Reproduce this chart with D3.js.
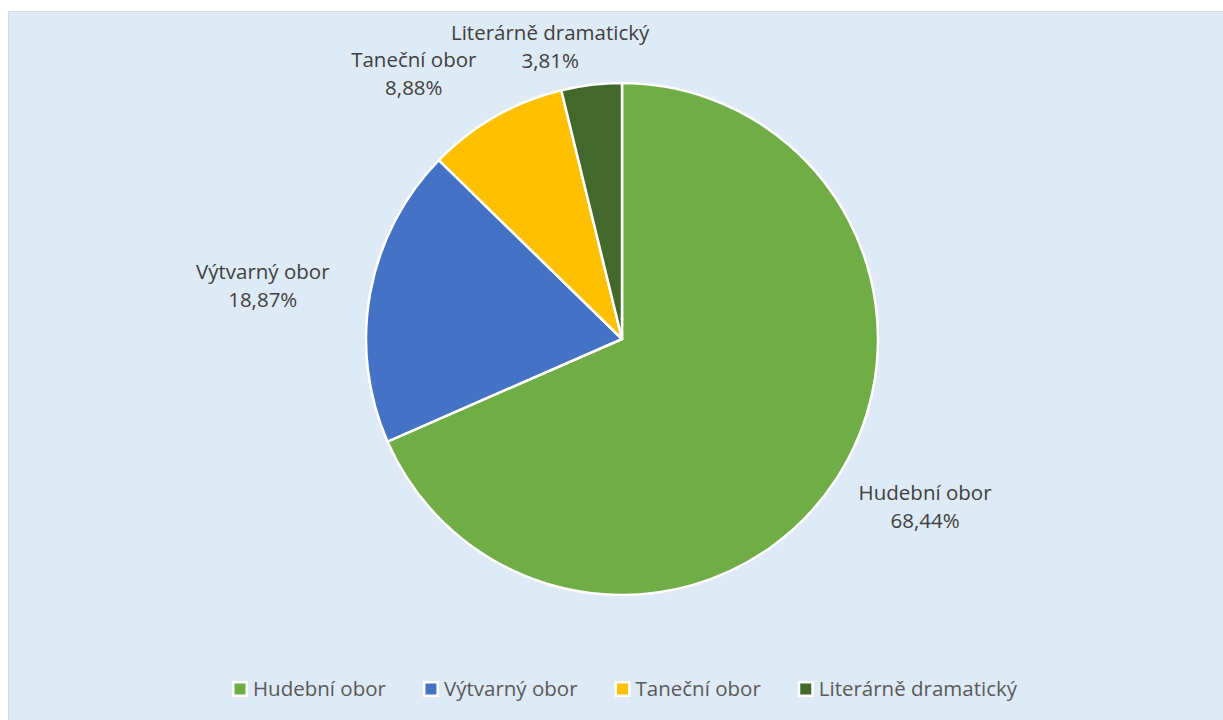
<!DOCTYPE html>
<html lang="cs">
<head>
<meta charset="utf-8">
<style>
  body { margin: 0; background: #fff; }
  svg text { font-family: "Open Sans", "Noto Sans", sans-serif; fill: #404040; }
</style>
</head>
<body>
<svg width="1223" height="720"></svg>
<script src="https://cdnjs.cloudflare.com/ajax/libs/d3/7.8.5/d3.min.js"></script>
<script>
// data
var categories = ["Hudební obor", "Výtvarný obor", "Taneční obor", "Literárně dramatický"];
var shares = [68.44, 18.87, 8.88, 3.81];
var colors = ["#70AD47", "#4472C4", "#FFC000", "#43682B"];

// label placement (angle shift in degrees, radius factor) - best-fit style
var labelShift = [-3.2, -3.0, -9.2, -7.3];
var labelRadius = [1.367, 1.415, 1.295, 1.148];

var svg = d3.select("svg");

svg.append("rect")
    .attr("x", 8.5).attr("y", 11.5)
    .attr("width", 1230).attr("height", 720)
    .attr("fill", "#DEEAF6")
    .attr("stroke", "#D9D9D9");

var cx = 622, cy = 339, r = 256;

var data = categories.map(function(c, i) { return { name: c, value: shares[i], color: colors[i], i: i }; });

var pie = d3.pie().sort(null).value(function(d) { return d.value; });
var arc = d3.arc().innerRadius(0).outerRadius(r);

var g = svg.append("g").attr("transform", "translate(" + cx + "," + cy + ")");

var arcs = pie(data);

g.selectAll("path")
  .data(arcs)
  .enter().append("path")
    .attr("d", arc)
    .attr("fill", function(d) { return d.data.color; })
    .attr("stroke", "#fff")
    .attr("stroke-width", 2.5)
    .attr("stroke-linejoin", "round");

var fmt = function(v) { return v.toFixed(2).replace(".", ",") + "%"; };

var labels = g.selectAll("text.lbl")
  .data(arcs)
  .enter().append("text")
    .attr("class", "lbl")
    .attr("text-anchor", "middle")
    .style("font-size", "20.5px")
    .attr("transform", function(d) {
      var i = d.data.i;
      var a = (d.startAngle + d.endAngle) / 2 + labelShift[i] * Math.PI / 180;
      var rr = r * labelRadius[i];
      return "translate(" + (Math.sin(a) * rr) + "," + (-Math.cos(a) * rr) + ")";
    });

labels.append("tspan").attr("x", 0).attr("y", -14).text(function(d) { return d.data.name; });
labels.append("tspan").attr("x", 0).attr("y", 14).text(function(d) { return fmt(d.data.value); });

// legend
var legend = svg.append("g").attr("transform", "translate(232,689)");
var item = legend.selectAll("g")
  .data(data)
  .enter().append("g");

item.append("rect")
    .attr("x", 0).attr("y", -8)
    .attr("width", 16).attr("height", 16)
    .attr("fill", "#fff");
item.append("rect")
    .attr("x", 2.5).attr("y", -5.5)
    .attr("width", 11).attr("height", 11)
    .attr("fill", function(d) { return d.color; });
item.append("text")
    .attr("x", 21).attr("y", 0)
    .attr("dy", "0.35em")
    .style("font-size", "20.5px")
    .style("fill", "#595959")
    .text(function(d) { return d.name; });

var xoff = 0;
item.each(function() {
  var w = d3.select(this).select("text").node().getComputedTextLength();
  d3.select(this).attr("transform", "translate(" + xoff + ",0)");
  xoff += 21 + w + 37;
});
</script>
</body>
</html>
